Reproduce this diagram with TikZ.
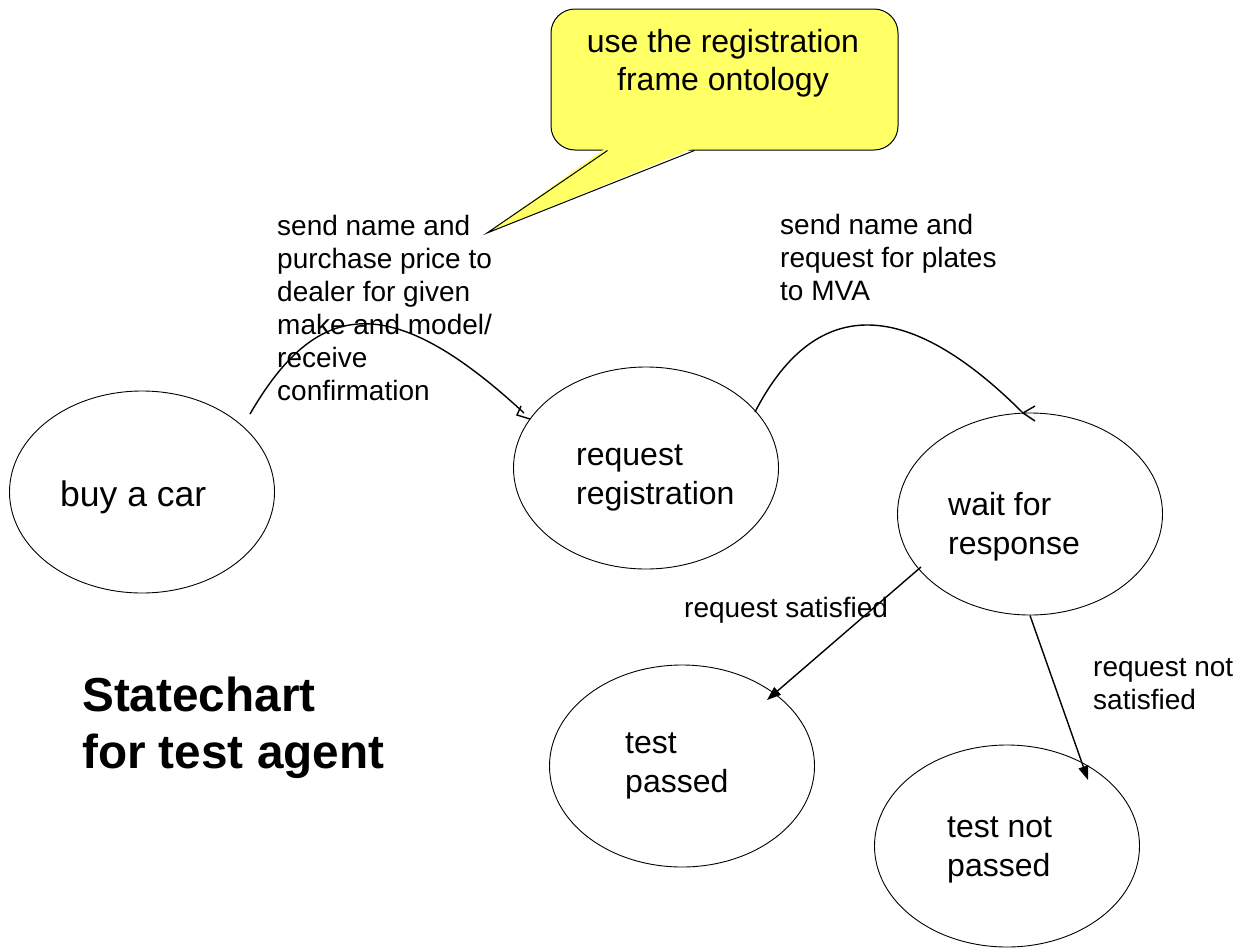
\documentclass[tikz,border=0pt]{standalone}
\usepackage{fontspec}
\setmainfont{Liberation Sans}
\usetikzlibrary{arrows.meta,calc,shapes.geometric}
\definecolor{calloutyellow}{HTML}{FFFF66}

\begin{document}
\begin{tikzpicture}[x=1pt,y=-1pt,
  state/.style={ellipse,draw,line width=0.9pt,minimum width=265pt,minimum height=202pt,inner sep=0pt},
  statetext/.style={anchor=base west,align=left,inner sep=0pt,font=\fontsize{32}{38.5}\selectfont},
  edgelabel/.style={anchor=base west,align=left,inner sep=0pt,font=\fontsize{28}{33}\selectfont},
  flow/.style={line width=1.4pt},
  arrowflow/.style={line width=1.4pt,-{Triangle[length=14pt,width=10pt]}},
  notebox/.style={draw,fill=calloutyellow,rounded corners=24pt,line width=1pt,
    minimum width=347pt,minimum height=141pt,inner sep=0pt}
]
\useasboundingbox (0,0) rectangle (1236,951);

% speech bubble with its pointer
\node[notebox] (note) at (724.5,79.5) {};
\coordinate (notetip) at (487,233);
\fill[calloutyellow] ($(note.south west)+(56,-3)$) -- (notetip) -- ($(note.south west)+(145,-3)$) -- cycle;
\draw[line width=1pt] ($(note.south west)+(57,0)$) -- (notetip) -- ($(note.south west)+(144,0)$);
% multi-line nodes: the base anchor sits on the last line
\node[anchor=base,align=center,inner sep=0pt,font=\fontsize{32}{38}\selectfont] (notetext)
  at (723,90) {use the registration\\frame ontology};

% states
\node[state] (buy)  at (142,492) {};
\node[state] (reg)  at (646,468) {};
\node[state] (wait) at (1030,514) {};
\node[state] (pass) at (682,766) {};
\node[state] (fail) at (1007,846) {};

\node[statetext,font=\fontsize{35.5}{42}\selectfont] (buytext) at (60,506) {buy a car};
\node[statetext] (regtext)  at (576,504) {request\\registration};
\node[statetext] (waittext) at (948,554) {wait for\\response};
\node[statetext] (passtext) at (625,792) {test\\passed};
\node[statetext] (failtext) at (947,876) {test not\\passed};

% title
\node[anchor=base west,align=left,inner sep=0pt,font=\fontsize{47.7}{57}\selectfont\bfseries]
  (title) at (82,768) {Statechart\\for test agent};

% transition labels
\node[edgelabel] (lab1) at (277,400) {send name and\\purchase price to\\dealer for given\\make and model/\\receive\\confirmation};
\node[edgelabel] (lab2) at (780,300) {send name and\\request for plates\\to MVA};
\node[edgelabel] (lab3) at (684,617) {request satisfied};
\node[edgelabel] (lab4) at (1093,709) {request not\\satisfied};

% curved transitions with open barbs
\coordinate (c1s) at ($(buy.center)+(108,-78)$);
\coordinate (c1e) at ($(reg.center)+(-122,-55)$);
\draw[flow] (c1s) .. controls (315,302) and (387,286) .. (c1e);
\draw[flow] ($(c1e)+(-3,-7)$) -- ($(c1e)+(-7,2)$) -- ($(c1e)+(6,6)$);

\coordinate (c2s) at ($(reg.center)+(109,-56)$);
\coordinate (c2e) at ($(wait.center)+(-7,-101)$);
\draw[flow] (c2s) .. controls (805,315) and (888,278) .. (c2e);
\draw[flow] ($(c2e)+(12,-7)$) -- (c2e) -- ($(c2e)+(12,8)$);

% straight transitions
\draw[arrowflow] ($(wait.center)+(-109,53)$) -- ($(pass.center)+(85,-66)$);
\draw[arrowflow] (wait.south) -- ($(fail.center)+(81,-66)$);
\end{tikzpicture}
\end{document}
